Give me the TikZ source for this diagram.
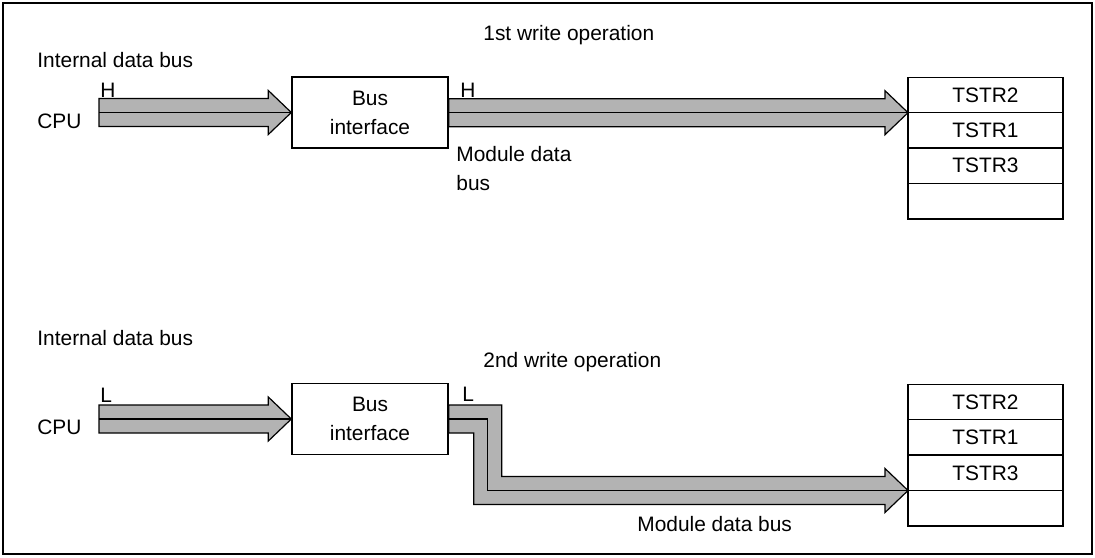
\documentclass[tikz,border=0pt]{standalone}
\usepackage{fontspec}
\setmainfont{Liberation Sans}
\usetikzlibrary{positioning, calc}
\definecolor{busgray}{HTML}{B3B3B3}

% straight bus arrow: from #1 to tip #2
\newcommand{\busarrow}[2]{%
  \draw[busbody] let \p1=(#1), \p2=(#2) in
    (\x1,\y2+7pt) -- (\x2-11.5pt,\y2+7pt) -- (\x2-11.5pt,\y2+11pt) -- (\x2,\y2)
    -- (\x2-11.5pt,\y2-11pt) -- (\x2-11.5pt,\y2-7pt) -- (\x1,\y2-7pt) -- cycle;
  \draw[busline] let \p1=(#1), \p2=(#2) in (\x1,\y2) -- (\x2,\y2);
}
% bent bus arrow: from #1, down at #2, tip #3
\newcommand{\busbend}[3]{%
  \draw[busbody] let \p1=(#1), \p2=(#2), \p3=(#3) in
    (\x1,\y1+7pt) -- (\x2+7pt,\y1+7pt) -- (\x2+7pt,\y3+7pt) -- (\x3-11.5pt,\y3+7pt)
    -- (\x3-11.5pt,\y3+11pt) -- (\x3,\y3) -- (\x3-11.5pt,\y3-11pt) -- (\x3-11.5pt,\y3-7pt)
    -- (\x2-7pt,\y3-7pt) -- (\x2-7pt,\y1-7pt) -- (\x1,\y1-7pt) -- cycle;
  \draw[busline] let \p1=(#1), \p2=(#2), \p3=(#3) in
    (\x1,\y1) -- (\x2,\y1) -- (\x2,\y3) -- (\x3,\y3);
}

\begin{document}
\begin{tikzpicture}[x=0.5pt, y=-0.5pt,
    font=\fontsize{10.45}{14.5}\selectfont,
    lbl/.style={inner sep=0pt, anchor=base west},
    iface/.style={draw, line width=0.7pt, align=center, minimum width=78pt,
      minimum height=35.5pt, inner sep=0pt},
    reg/.style={draw, line width=0.7pt, minimum width=77.5pt, minimum height=17.7pt,
      inner sep=0pt, outer sep=0pt},
    busbody/.style={draw=black, line width=0.6pt, fill=busgray, line join=miter},
    busline/.style={draw=black, line width=0.6pt}]
  \useasboundingbox (0,0) rectangle (1095,557);
  \draw[line width=0.8pt] (3,3) rectangle (1092,554);

  % 1st write
  \node[lbl] (title1) at (483,40) {1st write operation};
  \node[lbl] (idb1) at (37,67) {Internal data bus};
  \node[lbl] (h1) at (100,97) {H};
  \node[lbl] (cpu1) at (37,128) {CPU};
  \node[iface] (bi1) at (370,112.5) {Bus\\interface};
  \node[lbl] (h2) at (460,97) {H};
  \node[lbl, align=left, anchor=north west] (mdb1) at (456,146) {Module data\\bus};
  \node[reg] (r1a) at (985.5,95) {TSTR2};
  \node[reg, below=0pt of r1a] (r1b) {TSTR1};
  \node[reg, below=0pt of r1b] (r1c) {TSTR3};
  \node[reg, below=0pt of r1c] (r1d) {};
  \coordinate (in1) at (99,113);
  \busarrow{in1}{bi1.west}
  \busarrow{bi1.east}{r1a.south west}

  % 2nd write
  \node[lbl] (title2) at (483,367) {2nd write operation};
  \node[lbl] (idb2) at (37,345) {Internal data bus};
  \node[lbl] (l1) at (100,402) {L};
  \node[lbl] (cpu2) at (37,434) {CPU};
  \node[iface] (bi2) at (370,419) {Bus\\interface};
  \node[lbl] (l2) at (462,401) {L};
  \node[lbl] (mdb2) at (637,531) {Module data bus};
  \node[reg] (r2a) at (985.5,402) {TSTR2};
  \node[reg, below=0pt of r2a] (r2b) {TSTR1};
  \node[reg, below=0pt of r2b] (r2c) {TSTR3};
  \node[reg, below=0pt of r2c] (r2d) {};
  \coordinate (in2) at (99,419);
  \coordinate (knee) at ([xshift=19.5pt]bi2.east);
  \busarrow{in2}{bi2.west}
  \busbend{bi2.east}{knee}{r2c.south west}
\end{tikzpicture}
\end{document}
